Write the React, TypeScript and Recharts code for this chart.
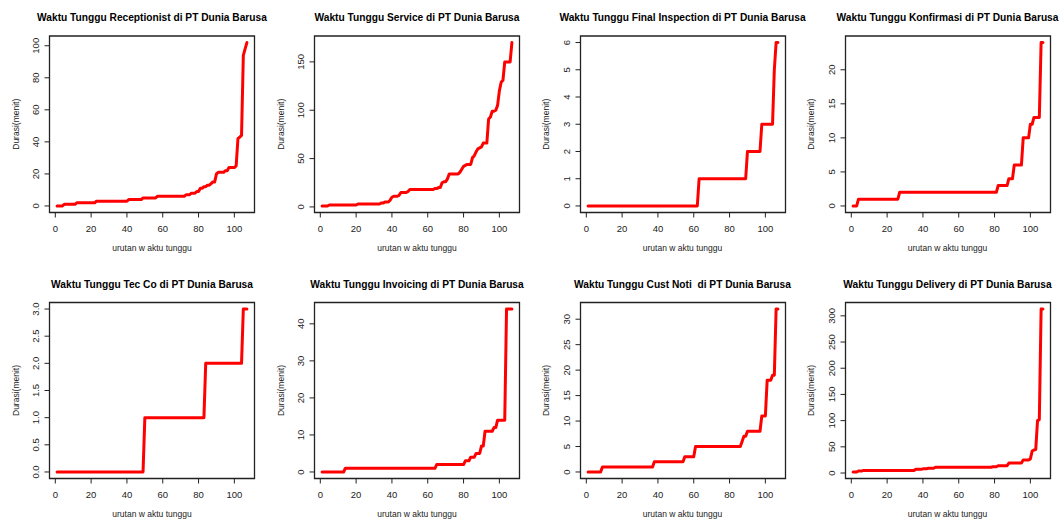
import React from 'react';
import { LineChart, Line, XAxis, YAxis, ReferenceArea } from 'recharts';

const FONT = '"Liberation Sans", Arial, Helvetica, sans-serif';

const titles = [
  'Waktu Tunggu Receptionist di PT Dunia Barusa',
  'Waktu Tunggu Service di PT Dunia Barusa',
  'Waktu Tunggu Final Inspection di PT Dunia Barusa',
  'Waktu Tunggu Konfirmasi di PT Dunia Barusa',
  'Waktu Tunggu Tec Co di PT Dunia Barusa',
  'Waktu Tunggu Invoicing di PT Dunia Barusa',
  'Waktu Tunggu Cust Noti  di PT Dunia Barusa',
  'Waktu Tunggu Delivery di PT Dunia Barusa',
];
const xAxisTitle = 'urutan w aktu tunggu';
const yAxisTitle = 'Durasi(menit)';

const receptionist = [
  0, 0, 0, 0, 1, 1, 1, 1, 1, 1,
  1, 2, 2, 2, 2, 2, 2, 2, 2, 2,
  2, 2, 3, 3, 3, 3, 3, 3, 3, 3,
  3, 3, 3, 3, 3, 3, 3, 3, 3, 3,
  4, 4, 4, 4, 4, 4, 4, 4, 5, 5,
  5, 5, 5, 5, 5, 5, 6, 6, 6, 6,
  6, 6, 6, 6, 6, 6, 6, 6, 6, 6,
  6, 6, 7, 7, 7, 8, 8, 8, 9, 9,
  11, 11, 12, 12, 13, 13, 14, 15, 15, 20,
  21, 21, 21, 21, 22, 22, 24, 24, 24, 24,
  25, 42, 43, 44, 94, 98, 102,
];

const service = [
  1, 1, 1, 1, 2, 2, 2, 2, 2, 2,
  2, 2, 2, 2, 2, 2, 2, 2, 2, 2,
  3, 3, 3, 3, 3, 3, 3, 3, 3, 3,
  3, 3, 3, 4, 4, 5, 5, 5, 7, 10,
  11, 11, 11, 12, 15, 15, 15, 15, 16, 18,
  18, 18, 18, 18, 18, 18, 18, 18, 18, 18,
  18, 18, 18, 19, 19, 20, 20, 25, 26, 26,
  29, 34, 34, 34, 34, 34, 34, 36, 39, 42,
  43, 44, 44, 44, 51, 53, 57, 60, 61, 62,
  66, 66, 66, 91, 93, 99, 99, 100, 105, 120,
  129, 131, 150, 150, 150, 150, 170,
];

const finalInspection = [
  0, 0, 0, 0, 0, 0, 0, 0, 0, 0,
  0, 0, 0, 0, 0, 0, 0, 0, 0, 0,
  0, 0, 0, 0, 0, 0, 0, 0, 0, 0,
  0, 0, 0, 0, 0, 0, 0, 0, 0, 0,
  0, 0, 0, 0, 0, 0, 0, 0, 0, 0,
  0, 0, 0, 0, 0, 0, 0, 0, 0, 0,
  0, 0, 1, 1, 1, 1, 1, 1, 1, 1,
  1, 1, 1, 1, 1, 1, 1, 1, 1, 1,
  1, 1, 1, 1, 1, 1, 1, 1, 1, 2,
  2, 2, 2, 2, 2, 2, 2, 3, 3, 3,
  3, 3, 3, 3, 5, 6, 6,
];

const konfirmasi = [
  0, 0, 0, 1, 1, 1, 1, 1, 1, 1,
  1, 1, 1, 1, 1, 1, 1, 1, 1, 1,
  1, 1, 1, 1, 1, 1, 2, 2, 2, 2,
  2, 2, 2, 2, 2, 2, 2, 2, 2, 2,
  2, 2, 2, 2, 2, 2, 2, 2, 2, 2,
  2, 2, 2, 2, 2, 2, 2, 2, 2, 2,
  2, 2, 2, 2, 2, 2, 2, 2, 2, 2,
  2, 2, 2, 2, 2, 2, 2, 2, 2, 2,
  2, 3, 3, 3, 3, 3, 3, 4, 4, 4,
  6, 6, 6, 6, 6, 10, 10, 10, 10, 12,
  12, 13, 13, 13, 13, 24, 24,
];

const tecCo = [
  0, 0, 0, 0, 0, 0, 0, 0, 0, 0,
  0, 0, 0, 0, 0, 0, 0, 0, 0, 0,
  0, 0, 0, 0, 0, 0, 0, 0, 0, 0,
  0, 0, 0, 0, 0, 0, 0, 0, 0, 0,
  0, 0, 0, 0, 0, 0, 0, 0, 0, 1,
  1, 1, 1, 1, 1, 1, 1, 1, 1, 1,
  1, 1, 1, 1, 1, 1, 1, 1, 1, 1,
  1, 1, 1, 1, 1, 1, 1, 1, 1, 1,
  1, 1, 1, 2, 2, 2, 2, 2, 2, 2,
  2, 2, 2, 2, 2, 2, 2, 2, 2, 2,
  2, 2, 2, 2, 3, 3, 3,
];

const invoicing = [
  0, 0, 0, 0, 0, 0, 0, 0, 0, 0,
  0, 0, 0, 1, 1, 1, 1, 1, 1, 1,
  1, 1, 1, 1, 1, 1, 1, 1, 1, 1,
  1, 1, 1, 1, 1, 1, 1, 1, 1, 1,
  1, 1, 1, 1, 1, 1, 1, 1, 1, 1,
  1, 1, 1, 1, 1, 1, 1, 1, 1, 1,
  1, 1, 1, 1, 2, 2, 2, 2, 2, 2,
  2, 2, 2, 2, 2, 2, 2, 2, 2, 2,
  3, 3, 3, 4, 4, 4, 5, 5, 5, 7,
  7, 11, 11, 11, 11, 11, 12, 12, 14, 14,
  14, 14, 14, 44, 44, 44, 44,
];

const custNoti = [
  0, 0, 0, 0, 0, 0, 0, 0, 1, 1,
  1, 1, 1, 1, 1, 1, 1, 1, 1, 1,
  1, 1, 1, 1, 1, 1, 1, 1, 1, 1,
  1, 1, 1, 1, 1, 1, 1, 2, 2, 2,
  2, 2, 2, 2, 2, 2, 2, 2, 2, 2,
  2, 2, 2, 2, 3, 3, 3, 3, 3, 3,
  5, 5, 5, 5, 5, 5, 5, 5, 5, 5,
  5, 5, 5, 5, 5, 5, 5, 5, 5, 5,
  5, 5, 5, 5, 5, 5, 6, 7, 7, 8,
  8, 8, 8, 8, 8, 8, 8, 11, 11, 11,
  18, 18, 18, 19, 19, 32, 32,
];

const delivery = [
  2, 2, 2, 4, 4, 4, 5, 5, 5, 5,
  5, 5, 5, 5, 5, 5, 5, 5, 5, 5,
  5, 5, 5, 5, 5, 5, 5, 5, 5, 5,
  5, 5, 5, 5, 5, 7, 7, 7, 7, 8,
  8, 8, 9, 9, 9, 9, 11, 11, 11, 11,
  11, 11, 11, 11, 11, 11, 11, 11, 11, 11,
  11, 11, 11, 11, 11, 11, 11, 11, 11, 11,
  11, 11, 11, 11, 11, 11, 11, 11, 12, 12,
  12, 14, 14, 14, 14, 14, 14, 19, 19, 19,
  19, 19, 19, 19, 19, 25, 25, 25, 25, 27,
  42, 44, 45, 100, 102, 313, 313,
];

const xTicks = [0, 20, 40, 60, 80, 100];
const yTicksReceptionist = [0, 20, 40, 60, 80, 100];
const yTicksService = [0, 50, 100, 150];
const yTicksFinal = [0, 1, 2, 3, 4, 5, 6];
const yTicksKonfirmasi = [0, 5, 10, 15, 20];
const yTicksTecCo = [0, 0.5, 1, 1.5, 2, 2.5, 3];
const yTicksInvoicing = [0, 10, 20, 30, 40];
const yTicksCustNoti = [0, 5, 10, 15, 20, 25, 30];
const yTicksDelivery = [0, 50, 100, 150, 200, 250, 300];

const panels = [
  { values: receptionist, yTicks: yTicksReceptionist, decimals: 0 },
  { values: service, yTicks: yTicksService, decimals: 0 },
  { values: finalInspection, yTicks: yTicksFinal, decimals: 0 },
  { values: konfirmasi, yTicks: yTicksKonfirmasi, decimals: 0 },
  { values: tecCo, yTicks: yTicksTecCo, decimals: 1 },
  { values: invoicing, yTicks: yTicksInvoicing, decimals: 0 },
  { values: custNoti, yTicks: yTicksCustNoti, decimals: 0 },
  { values: delivery, yTicks: yTicksDelivery, decimals: 0 },
];

const COL_X = [0, 265, 530.5, 795.5];
const ROWS = [
  { top: 0, boxT: 36, boxB: 212.5, titleY: 20.7, xLabelY: 250.5 },
  { top: 260, boxT: 302.5, boxB: 478.5, titleY: 288.3, xLabelY: 516.5 },
];
const BOX_L = 49.5;
const BOX_W = 205;
const CW = 265;
const CH = 260;
const AXW = 30;
const TICK_FS = 9.5;
const LAB_FS = 8.5;
const INK = '#222';

const XTick = (props: any) => {
  const { x, y, payload } = props;
  return (
    <text x={x} y={y + 12.8} textAnchor="middle" fontSize={TICK_FS} fontFamily={FONT} fill={INK}>
      {payload.value}
    </text>
  );
};

const makeYTick = (decimals: number) => (props: any) => {
  const { x, y, payload } = props;
  const tx = x - 3.6;
  return (
    <text
      x={tx}
      y={y}
      transform={`rotate(-90 ${tx} ${y})`}
      textAnchor="middle"
      fontSize={TICK_FS}
      fontFamily={FONT}
      fill={INK}
    >
      {Number(payload.value).toFixed(decimals)}
    </text>
  );
};

function Panel({ index }: { index: number }) {
  const p = panels[index];
  const row = ROWS[Math.floor(index / 4)];
  const col = COL_X[index % 4];
  const data = p.values.map((v, i) => ({ x: i + 1, y: v }));
  const n = p.values.length;
  const xPad = (n - 1) * 0.04;
  const xDomain: [number, number] = [1 - xPad, n + xPad];
  const yMin = Math.min(...p.values);
  const yMax = Math.max(...p.values);
  const yPad = (yMax - yMin) * 0.04;
  const yDomain: [number, number] = [yMin - yPad, yMax + yPad];
  const YTick = makeYTick(p.decimals);
  const margin = {
    top: row.boxT - row.top,
    right: CW - BOX_L - BOX_W,
    bottom: CH - (row.boxB - row.top) - AXW,
    left: BOX_L - AXW,
  };
  return (
    <div style={{ position: 'absolute', left: col, top: row.top, width: CW, height: CH }}>
      <LineChart width={CW} height={CH} data={data} margin={margin}>
        <XAxis
          dataKey="x"
          type="number"
          domain={xDomain}
          ticks={xTicks}
          interval={0}
          allowDataOverflow
          axisLine={false}
          tickLine={{ stroke: INK, strokeWidth: 1 }}
          tickSize={5}
          tickMargin={2}
          height={AXW}
          tick={<XTick />}
        />
        <YAxis
          dataKey="y"
          type="number"
          domain={yDomain}
          ticks={p.yTicks}
          interval={0}
          allowDataOverflow
          axisLine={false}
          tickLine={{ stroke: INK, strokeWidth: 1 }}
          tickSize={5}
          tickMargin={2}
          width={AXW}
          tick={<YTick />}
        />
        <ReferenceArea
          x1={xDomain[0]}
          x2={xDomain[1]}
          y1={yDomain[0]}
          y2={yDomain[1]}
          fill="none"
          fillOpacity={0}
          stroke={INK}
          strokeWidth={1.3}
          strokeOpacity={1}
          ifOverflow="visible"
        />
        <Line
          type="linear"
          dataKey="y"
          stroke="#ff0000"
          strokeWidth={3}
          dot={false}
          activeDot={false}
          isAnimationActive={false}
          strokeLinejoin="round"
          strokeLinecap="round"
        />
      </LineChart>
    </div>
  );
}

export default function App() {
  return (
    <div
      style={{
        position: 'absolute',
        left: 0,
        top: 0,
        width: 1059,
        height: 521,
        background: '#fff',
        overflow: 'hidden',
        fontFamily: FONT,
      }}
    >
      {panels.map((_, i) => (
        <Panel key={i} index={i} />
      ))}
      <svg
        width={1059}
        height={521}
        style={{ position: 'absolute', left: 0, top: 0, pointerEvents: 'none' }}
      >
        {titles.map((t, i) => {
          const row = ROWS[Math.floor(i / 4)];
          const cx = COL_X[i % 4] + BOX_L + BOX_W / 2;
          const cy = (row.boxT + row.boxB) / 2;
          const yl = COL_X[i % 4] + 18.8;
          return (
            <g key={i}>
              <text
                x={cx}
                y={row.titleY}
                textAnchor="middle"
                fontSize={10.2}
                fontWeight="bold"
                fontFamily={FONT}
                fill="#000"
                style={{ whiteSpace: 'pre' }}
              >
                {t}
              </text>
              <text
                x={cx}
                y={row.xLabelY}
                textAnchor="middle"
                fontSize={LAB_FS}
                fontFamily={FONT}
                fill={INK}
                style={{ whiteSpace: 'pre' }}
              >
                {xAxisTitle}
              </text>
              <text
                x={yl}
                y={cy}
                transform={`rotate(-90 ${yl} ${cy})`}
                textAnchor="middle"
                fontSize={LAB_FS}
                fontFamily={FONT}
                fill={INK}
              >
                {yAxisTitle}
              </text>
            </g>
          );
        })}
      </svg>
    </div>
  );
}
